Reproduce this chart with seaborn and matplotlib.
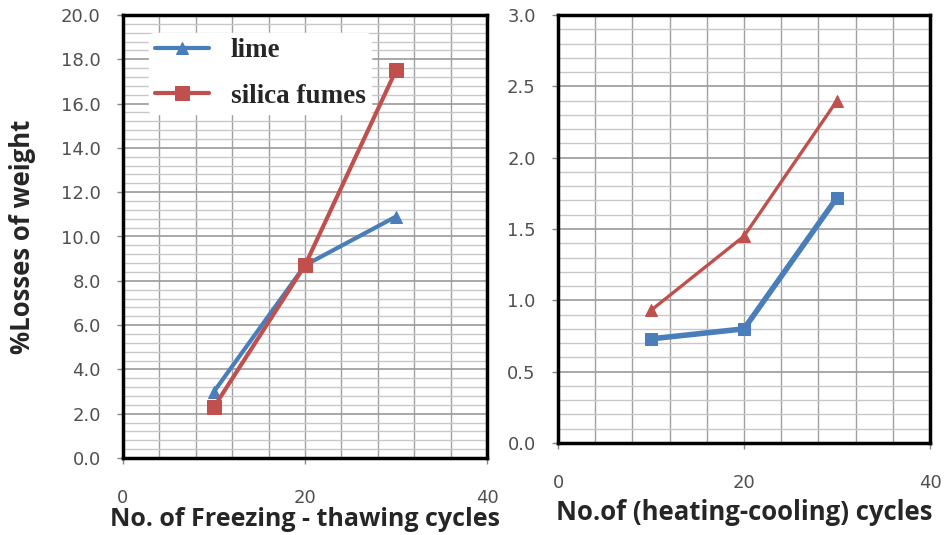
import matplotlib
matplotlib.use("Agg")
import matplotlib.pyplot as plt
import seaborn as sns
import pandas as pd
from matplotlib.ticker import MultipleLocator, FormatStrFormatter

# ---- data ----
cycles = [10, 20, 30]
ft_lime = [3.0, 8.7, 10.9]
ft_silica = [2.3, 8.7, 17.5]
hc_red = [0.93, 1.45, 2.40]
hc_blue = [0.73, 0.80, 1.72]
series_names = ["lime", "silica fumes"]
left_xlabel = "No. of Freezing - thawing cycles"
right_xlabel = "No.of (heating-cooling) cycles"
ylabel = "%Losses of weight"
x_ticks = [0, 20, 40]

BLUE = "#4A7EBB"
RED = "#C0504D"

sns.set_theme(style="white")
plt.rcParams['font.family'] = ['DejaVu Sans']

fig = plt.figure(figsize=(9.48, 5.35), dpi=100)
W, H = 948, 535
axL = fig.add_axes([123 / W, 1 - 458 / H, (487 - 123) / W, (458 - 15) / H])
axR = fig.add_axes([558 / W, 1 - 443 / H, (930 - 558) / W, (443 - 15) / H])

dfL = pd.DataFrame({"x": cycles * 2, "y": ft_lime + ft_silica,
                    "s": [series_names[0]] * 3 + [series_names[1]] * 3})
sns.lineplot(data=dfL[dfL.s == series_names[0]], x="x", y="y", ax=axL, color=BLUE,
             lw=3.0, marker="^", markersize=9, markeredgecolor=BLUE, label=series_names[0], zorder=3)
sns.lineplot(data=dfL[dfL.s == series_names[1]], x="x", y="y", ax=axL, color=RED,
             lw=3.0, marker="s", markersize=10, markeredgecolor=RED, label=series_names[1], zorder=3)

sns.lineplot(x=cycles, y=hc_red, ax=axR, color=RED, lw=2.4, marker="^",
             markersize=8, markeredgecolor=RED, zorder=3)
sns.lineplot(x=cycles, y=hc_blue, ax=axR, color=BLUE, lw=4.0, marker="s",
             markersize=9, markeredgecolor=BLUE, zorder=3)

for ax, ymax, major, minor in [(axL, 20, 2.0, 0.4), (axR, 3.0, 0.5, 0.1)]:
    ax.set_xlim(0, 40)
    ax.set_ylim(0, ymax)
    ax.set_xticks(x_ticks)
    ax.xaxis.set_minor_locator(MultipleLocator(4))
    ax.yaxis.set_major_locator(MultipleLocator(major))
    ax.yaxis.set_minor_locator(MultipleLocator(minor))
    ax.yaxis.set_major_formatter(FormatStrFormatter("%.1f"))
    ax.grid(which="major", axis="y", color="#9a9a9a", lw=1.2)
    ax.grid(which="minor", axis="y", color="#c8c8c8", lw=1.0)
    ax.grid(which="minor", axis="x", color="#a0a0a0", lw=1.0)
    ax.grid(which="major", axis="x", color="#a0a0a0", lw=1.0)
    ax.set_axisbelow(True)
    for sp in ax.spines.values():
        sp.set_visible(True)
        sp.set_color("black")
        sp.set_linewidth(2.5)
    ax.tick_params(axis="both", which="major", labelsize=13, labelcolor="#505050",
                   length=4, width=1, color="#888888", left=True, bottom=True)
    ax.tick_params(axis="y", which="major", pad=12)
    ax.tick_params(axis="both", which="minor", length=0)
    ax.set_ylabel("")

axL.tick_params(axis="x", which="major", pad=18)
axR.tick_params(axis="x", which="major", pad=18)
axL.set_xlabel(left_xlabel, fontsize=18, fontweight="bold", family="Open Sans", labelpad=0)
axR.set_xlabel(right_xlabel, fontsize=18.5, fontweight="bold", family="Open Sans", labelpad=5)
axL.set_ylabel(ylabel, fontsize=18.5, fontweight="bold", family="Open Sans", labelpad=18)

leg = axL.legend(loc="upper left", bbox_to_anchor=(0.035, 0.99), frameon=True,
                 prop={"family": "Liberation Serif", "weight": "bold", "size": 19.5},
                 handlelength=2.0, labelspacing=0.75, borderpad=0.2, handletextpad=0.8)
leg.get_frame().set_facecolor("white")
leg.get_frame().set_edgecolor("white")
leg.get_frame().set_alpha(1.0)

fig.savefig("out.png", dpi=100)
